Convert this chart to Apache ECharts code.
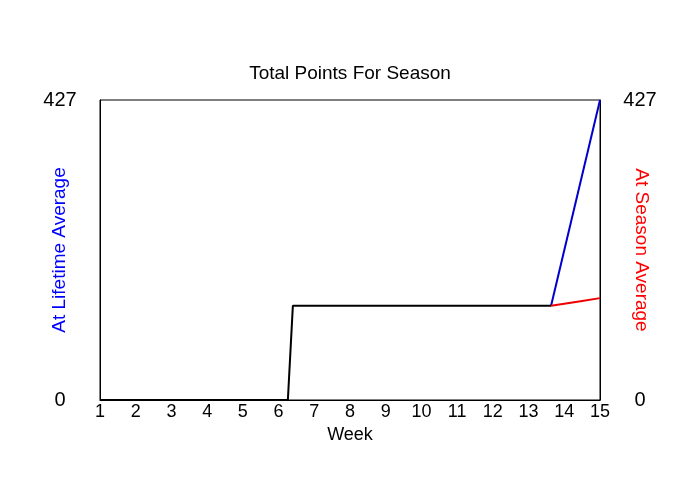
<!DOCTYPE html>
<html lang="en">
<head>
    <meta charset="utf-8">
    <title>Total Points For Season</title>
    <script src="https://cdn.jsdelivr.net/npm/echarts@6/dist/echarts.min.js"></script>
    <style>body{margin:0;background:#fff;}</style>
</head>
<body>
<div id="chart" style="width: 700px;height:500px;"></div>
<script type="text/javascript">
var weekTicks = [1, 15];
var yMax = 427;

// season so far (black)
var actualWeeks = [1, 6.26, 6.4, 13.63];
var actualPoints = [0, 0, 134, 134];

// projection at lifetime average (blue)
var lifetimeWeeks = [13.63, 15];
var lifetimePoints = [134, 427];

// projection at season average (red)
var seasonWeeks = [13.63, 14, 14.5, 15];
var seasonPoints = [134, 137, 141, 145];

function pairs(xs, ys) {
    return xs.map(function (x, i) { return [x, ys[i]]; });
}

var myChart = echarts.init(document.getElementById('chart'));
var font = 'Liberation Sans, Arial, sans-serif';

myChart.setOption({
    backgroundColor: '#fff',
    animation: false,
    title: {
        text: 'Total Points For Season',
        left: 'center',
        top: 59,
        textStyle: {fontFamily: font, fontSize: 19, fontWeight: 'normal', color: '#000'}
    },
    graphic: [
        {
            type: 'text', x: 60, y: 250, rotation: Math.PI / 2,
            style: {text: 'At Lifetime Average', fill: '#0000ff', font: '19px ' + font,
                    align: 'center', verticalAlign: 'middle'}
        },
        {
            type: 'text', x: 641, y: 250, rotation: -Math.PI / 2,
            style: {text: 'At Season Average', fill: '#ff0000', font: '19px ' + font,
                    align: 'center', verticalAlign: 'middle'}
        }
    ],
    grid: {
        left: 100, right: 100, top: 100, bottom: 100,
        show: true, borderColor: '#000', borderWidth: 1
    },
    xAxis: {
        type: 'value',
        min: weekTicks[0], max: weekTicks[1], interval: 1,
        name: 'Week', nameLocation: 'middle', nameGap: 22,
        nameTextStyle: {fontFamily: font, fontSize: 18, color: '#000'},
        axisLine: {show: true, lineStyle: {color: '#000'}},
        axisTick: {show: false},
        splitLine: {show: false},
        axisLabel: {fontFamily: font, fontSize: 18, color: '#000', margin: 3}
    },
    yAxis: [
        {
            type: 'value', min: 0, max: yMax, interval: yMax, position: 'left',
            axisLine: {show: true, lineStyle: {color: '#000'}},
            axisTick: {show: false},
            splitLine: {show: false},
            axisLabel: {fontFamily: font, fontSize: 20, color: '#000', margin: 40, align: 'center'}
        },
        {
            type: 'value', min: 0, max: yMax, interval: yMax, position: 'right',
            axisLine: {show: true, lineStyle: {color: '#000'}},
            axisTick: {show: false},
            splitLine: {show: false},
            axisLabel: {fontFamily: font, fontSize: 20, color: '#000', margin: 40, align: 'center'}
        }
    ],
    series: [
        {
            type: 'line', data: pairs(lifetimeWeeks, lifetimePoints),
            showSymbol: false, lineStyle: {color: '#0000cc', width: 2}
        },
        {
            type: 'line', data: pairs(seasonWeeks, seasonPoints),
            showSymbol: false, lineStyle: {color: '#ee0000', width: 2}
        },
        {
            type: 'line', data: pairs(actualWeeks, actualPoints),
            showSymbol: false, lineStyle: {color: '#000', width: 2}
        }
    ]
});
</script>
</body>
</html>
